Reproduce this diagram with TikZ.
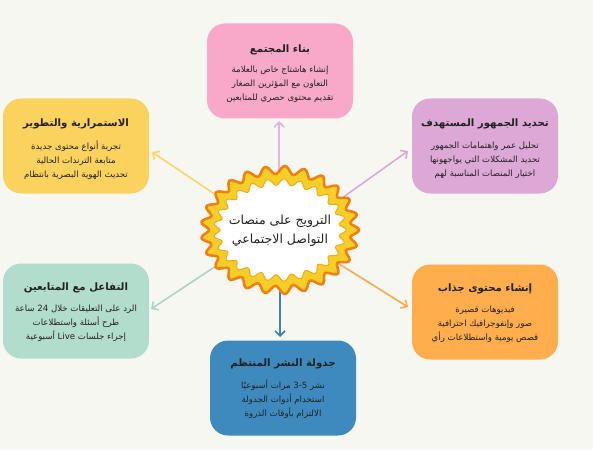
\documentclass[tikz,border=0pt]{standalone}
\usepackage{fontspec}
\newfontfamily\arabicfont[Script=Arabic]{DejaVu Sans}
\TeXXeTstate=1
\usetikzlibrary{arrows.meta}
\newcommand\RL[1]{\beginR #1\endR}
\newcommand\LR[1]{\beginL #1\endL{}}
\definecolor{bgc}{RGB}{247,247,242}
\definecolor{cpink}{RGB}{248,168,200}
\definecolor{cpurple}{RGB}{221,168,214}
\definecolor{cyellow}{RGB}{252,210,95}
\definecolor{cgreen}{RGB}{178,220,204}
\definecolor{corange}{RGB}{255,173,77}
\definecolor{cblue}{RGB}{62,138,190}
\definecolor{apink}{RGB}{226,178,226}
\definecolor{apurple}{RGB}{220,168,214}
\definecolor{ayellow}{RGB}{252,212,105}
\definecolor{agreen}{RGB}{168,214,198}
\definecolor{aorange}{RGB}{255,170,80}
\definecolor{ablue}{RGB}{60,130,190}
\definecolor{starorg}{RGB}{240,128,20}
\definecolor{staryel}{RGB}{246,206,40}
\definecolor{txt}{RGB}{34,34,34}
\begin{document}
\begin{tikzpicture}[x=1pt,y=-1pt,
  box/.style={rounded corners=18pt, minimum width=146pt, minimum height=95pt, inner sep=0pt},
  ttl/.style={font=\arabicfont\bfseries\fontsize{10.2}{13}\selectfont, text=txt, inner sep=0pt},
  body/.style={font=\arabicfont\fontsize{8.6}{14}\selectfont, align=center, text=txt, inner sep=0pt},
  arr/.style={line width=1.6pt, -{Straight Barb[length=5pt,width=10pt]}}]
\fill[bgc] (0,0) rectangle (593,449);
\useasboundingbox (0,0) rectangle (593,449);

% boxes
\node[box, fill=cpink]   (bpink)   at (280,71)  {};
\node[box, fill=cpurple] (bpurple) at (485,146) {};
\node[box, fill=cyellow] (byellow) at (76,146)  {};
\node[box, fill=cgreen]  (bgreen)  at (76,311)  {};
\node[box, fill=corange] (borange) at (485,312) {};
\node[box, fill=cblue]   (bblue)   at (283,388) {};

% titles and texts
\node[ttl] (tpink) at (280,50) {\RL{بناء المجتمع}};
\node[body] (xpink) at (280,84) {\RL{إنشاء هاشتاج خاص بالعلامة}\\\RL{التعاون مع المؤثرين الصغار}\\\RL{تقديم محتوى حصري للمتابعين}};

\node[ttl] (tpurple) at (485,124) {\RL{تحديد الجمهور المستهدف}};
\node[body] (xpurple) at (485,160) {\RL{تحليل عمر واهتمامات الجمهور}\\\RL{تحديد المشكلات التي يواجهونها}\\\RL{اختيار المنصات المناسبة لهم}};

\node[ttl] (tyellow) at (76,124) {\RL{الاستمرارية والتطوير}};
\node[body] (xyellow) at (76,160) {\RL{تجربة أنواع محتوى جديدة}\\\RL{متابعة الترندات الحالية}\\\RL{تحديث الهوية البصرية بانتظام}};

\node[ttl] (tgreen) at (76,288) {\RL{التفاعل مع المتابعين}};
\node[body] (xgreen) at (76,323) {\RL{الرد على التعليقات خلال \LR{24} ساعة}\\\RL{طرح أسئلة واستطلاعات}\\\RL{إجراء جلسات \LR{Live} أسبوعية}};

\node[ttl] (torange) at (485,289) {\RL{إنشاء محتوى جذاب}};
\node[body] (xorange) at (485,324) {\RL{فيديوهات قصيرة}\\\RL{صور وإنفوجرافيك احترافية}\\\RL{قصص يومية واستطلاعات رأي}};

\node[ttl] (tblue) at (283,364) {\RL{جدولة النشر المنتظم}};
\node[body] (xblue) at (283,399) {\RL{نشر \LR{3-5} مرات أسبوعيًا}\\\RL{استخدام أدوات الجدولة}\\\RL{الالتزام بأوقات الذروة}};

% arrows
\coordinate (spink) at (279,172);   \coordinate (epink) at (279,121);
\coordinate (spurple) at (335,203); \coordinate (epurple) at (408,151);
\coordinate (syellow) at (222,199); \coordinate (eyellow) at (152,152);
\coordinate (sgreen) at (222,262);  \coordinate (egreen) at (151,309);
\coordinate (sorange) at (336,262); \coordinate (eorange) at (408,307);
\coordinate (sblue) at (280,290);   \coordinate (eblue) at (280,337);
\draw[arr, apink] (spink) -- (epink);
\draw[arr, apurple] (spurple) -- (epurple);
\draw[arr, ayellow] (syellow) -- (eyellow);
\draw[arr, agreen] (sgreen) -- (egreen);
\draw[arr, aorange] (sorange) -- (eorange);
\draw[arr, ablue] (sblue) -- (eblue);

% starburst
\begin{scope}[shift={(280,230)}]
\filldraw[fill=staryel, draw=starorg, line width=2.6pt, line join=round]
  plot[domain=0:360, samples=541, variable=\t] ({(75+4*cos(25*\t))*cos(\t)}, {(60+4*cos(25*\t))*sin(\t)}) -- cycle;
\filldraw[fill=white, draw=starorg!50!staryel, line width=1pt, line join=round]
  plot[domain=0:360, samples=541, variable=\t] ({(63+3.2*cos(25*\t))*cos(\t)}, {(48+3.2*cos(25*\t))*sin(\t)}) -- cycle;
\end{scope}
\node[font=\arabicfont\fontsize{12.5}{19}\selectfont, align=center, text=txt] (hub) at (280,231) {\RL{الترويج على منصات}\\\RL{التواصل الاجتماعي}};
\end{tikzpicture}
\end{document}
